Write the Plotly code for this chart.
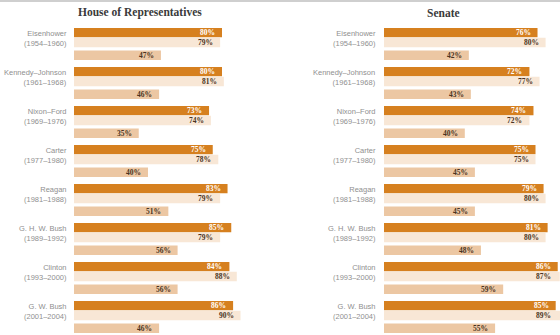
import plotly.graph_objects as go

# Presidencies (top to bottom)
presidents = ["Eisenhower", "Kennedy–Johnson", "Nixon–Ford", "Carter",
              "Reagan", "G. H. W. Bush", "Clinton", "G. W. Bush"]
years = ["(1954–1960)", "(1961–1968)", "(1969–1976)", "(1977–1980)",
         "(1981–1988)", "(1989–1992)", "(1993–2000)", "(2001–2004)"]

# House of Representatives (%)
house_top = [80, 80, 73, 75, 83, 85, 84, 86]
house_mid = [79, 81, 74, 78, 79, 79, 88, 90]
house_low = [47, 46, 35, 40, 51, 56, 56, 46]

# Senate (%)
senate_top = [76, 72, 74, 75, 79, 81, 86, 85]
senate_mid = [80, 77, 72, 75, 80, 80, 87, 89]
senate_low = [42, 43, 40, 45, 45, 48, 59, 55]

W, H = 560, 335
DARK = "#D6801F"
PALE = "#F8E7D6"
MID = "#ECC7A3"

# vertical layout: one unit per presidency
Y_RANGE = [7.462, -1.128]
rows = [  # (offset, width, colour, label colour)
    (-0.41, 0.235, DARK, "white"),
    (-0.16, 0.245, PALE, "#4a3422"),
    (0.17, 0.24, MID, "#4a3422"),
]

# horizontal layout per panel: left pixel, right pixel, px per percent
panels = [
    dict(name="House of Representatives", x0=74, x1=272, scale=1.85,
         series=[house_top, house_mid, house_low], lab_x=69, title_x=140,
         xa="x", ya="y"),
    dict(name="Senate", x0=384, x1=560, scale=2.02,
         series=[senate_top, senate_mid, senate_low], lab_x=378, title_x=443,
         xa="x2", ya="y2"),
]

fig = go.Figure()
annotations = []
idx = list(range(len(presidents)))

for p in panels:
    xmax = (p["x1"] - p["x0"]) / p["scale"]
    p["xmax"] = xmax
    for (off, wd, col, tcol), vals in zip(rows, p["series"]):
        fig.add_trace(go.Bar(
            x=vals, y=idx, orientation="h", base=0,
            offset=off, width=wd, marker=dict(color=col, line=dict(width=0)),
            xaxis=p["xa"], yaxis=p["ya"], showlegend=False, hoverinfo="skip",
        ))
        for i, v in enumerate(vals):
            annotations.append(dict(
                x=min(v, xmax - 1.2), y=i + off + wd / 2,
                xref=p["xa"], yref=p["ya"], text=f"<b>{v}%</b>",
                xanchor="right", yanchor="middle", xshift=-5, showarrow=False,
                font=dict(family="Liberation Serif", size=7.5, color=tcol),
            ))
    for i, (n, yr) in enumerate(zip(presidents, years)):
        annotations.append(dict(
            x=p["lab_x"] / W, y=i - 0.15, xref="paper", yref=p["ya"],
            text=f"{n}<br>{yr}", xanchor="right", yanchor="middle",
            align="right", showarrow=False,
            font=dict(family="Liberation Sans", size=7.5, color="#8f8f8f"),
        ))
    annotations.append(dict(
        x=p["title_x"] / W, y=1 - 13 / H, xref="paper", yref="paper",
        text=f"<b>{p['name']}</b>", xanchor="center", yanchor="middle",
        showarrow=False,
        font=dict(family="Liberation Serif", size=11.5, color="#3a3a3a"),
    ))

axis_common = dict(showgrid=False, zeroline=False, showticklabels=False,
                   showline=False, ticks="", fixedrange=True)

fig.update_layout(
    width=W, height=H,
    margin=dict(l=0, r=0, t=0, b=0),
    paper_bgcolor="white", plot_bgcolor="white",
    barmode="overlay",
    xaxis=dict(domain=[panels[0]["x0"] / W, panels[0]["x1"] / W],
               range=[0, panels[0]["xmax"]], **axis_common),
    xaxis2=dict(domain=[panels[1]["x0"] / W, panels[1]["x1"] / W],
                range=[0, panels[1]["xmax"]], anchor="y2", **axis_common),
    yaxis=dict(domain=[0, 1], range=Y_RANGE, **axis_common),
    yaxis2=dict(domain=[0, 1], range=Y_RANGE, anchor="x2", **axis_common),
    annotations=annotations,
    shapes=[dict(type="line", xref="paper", yref="paper", x0=0, x1=1,
                 y0=1 - 1 / H, y1=1 - 1 / H,
                 line=dict(color="#cfcfcf", width=2))],
)

fig.write_html("out.html")
